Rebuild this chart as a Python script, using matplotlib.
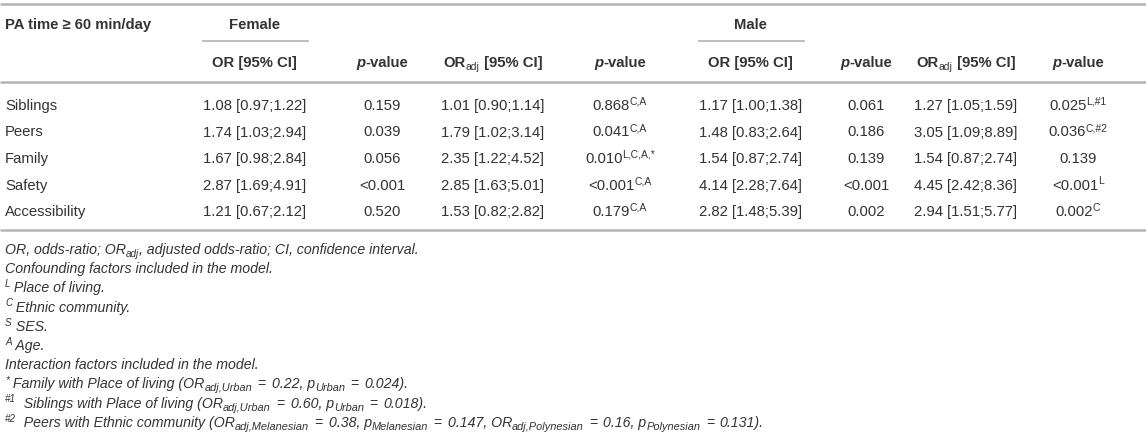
import matplotlib
matplotlib.use("Agg")
import matplotlib.pyplot as plt
from matplotlib.font_manager import FontProperties, findfont, get_font

try:
    from matplotlib.ft2font import LoadFlags, Kerning
    NOHINT = LoadFlags.NO_HINTING
    KDEF = Kerning.DEFAULT
except Exception:  # older versions
    NOHINT = 2
    KDEF = 0

# ---------------- data ----------------
row_labels = ["Siblings", "Peers", "Family", "Safety", "Accessibility"]
female_or = ["1.08 [0.97;1.22]", "1.74 [1.03;2.94]", "1.67 [0.98;2.84]", "2.87 [1.69;4.91]", "1.21 [0.67;2.12]"]
female_p = ["0.159", "0.039", "0.056", "<0.001", "0.520"]
female_oradj = ["1.01 [0.90;1.14]", "1.79 [1.02;3.14]", "2.35 [1.22;4.52]", "2.85 [1.63;5.01]", "1.53 [0.82;2.82]"]
female_padj = ["0.868", "0.041", "0.010", "<0.001", "0.179"]
female_padj_sup = ["C,A", "C,A", "L,C,A,*", "C,A", "C,A"]
male_or = ["1.17 [1.00;1.38]", "1.48 [0.83;2.64]", "1.54 [0.87;2.74]", "4.14 [2.28;7.64]", "2.82 [1.48;5.39]"]
male_p = ["0.061", "0.186", "0.139", "<0.001", "0.002"]
male_oradj = ["1.27 [1.05;1.59]", "3.05 [1.09;8.89]", "1.54 [0.87;2.74]", "4.45 [2.42;8.36]", "2.94 [1.51;5.77]"]
male_padj = ["0.025", "0.036", "0.139", "<0.001", "0.002"]
male_padj_sup = ["L,#1", "C,#2", "", "L", "C"]

corner_label = "PA time ≥ 60 min/day"
group_labels = ["Female", "Male"]

footnotes = [
    [("OR, odds-ratio; OR", "n"), ("adj", "sub"), (", adjusted odds-ratio; CI, confidence interval.", "n")],
    [("Confounding factors included in the model.", "n")],
    [("L", "sup"), (" Place of living.", "n")],
    [("C", "sup"), (" Ethnic community.", "n")],
    [("S", "sup"), (" SES.", "n")],
    [("A", "sup"), (" Age.", "n")],
    [("Interaction factors included in the model.", "n")],
    [("*", "sup"), (" Family with Place of living (OR", "n"), ("adj,Urban", "msub"), ("=", "eq"),
     ("0.22, p", "n"), ("Urban", "msub"), ("=", "eq"), ("0.024).", "n")],
    [("#1", "sup"), ("  Siblings with Place of living (OR", "n"), ("adj,Urban", "msub"), ("=", "eq"),
     ("0.60, p", "n"), ("Urban", "msub"), ("=", "eq"), ("0.018).", "n")],
    [("#2", "sup"), ("  Peers with Ethnic community (OR", "n"), ("adj,Melanesian", "msub"), ("=", "eq"),
     ("0.38, p", "n"), ("Melanesian", "msub"), ("=", "eq"), ("0.147, OR", "n"),
     ("adj,Polynesian", "msub"), ("=", "eq"), ("0.16, p", "n"), ("Polynesian", "msub"), ("=", "eq"),
     ("0.131).", "n")],
]

# ---------------- layout ----------------
W, H = 1146, 443
FS = 10.7
FS_FOOT = 10.2
TXT = "#333333"
LINE = "#b4b4b4"
FONT = "Liberation Sans"

fig = plt.figure(figsize=(W / 100, H / 100), dpi=100)
ax = fig.add_axes([0, 0, 1, 1])
ax.set_xlim(0, W)
ax.set_ylim(H, 0)
ax.axis("off")


def adv_width(s, size, weight, style):
    fp = FontProperties(family=FONT, weight=weight, style=style, size=size)
    font = get_font(findfont(fp))
    font.set_size(size, 100)
    w = 0.0
    prev = None
    for c in s:
        idx = font.get_char_index(ord(c))
        if prev is not None:
            try:
                w += font.get_kerning(prev, idx, KDEF) / 64.0
            except Exception:
                pass
        g = font.load_char(ord(c), flags=NOHINT)
        w += g.linearHoriAdvance / 65536.0
        prev = idx
    return w


def draw_runs(x, y, parts, ha="left", weight="normal", style="normal", fs=FS):
    px_per_pt = 100 / 72
    items = []
    for txt, kind in parts:
        size = fs
        dy = 0.0
        st = style
        pad = 0.0
        if kind == "sup":
            size = fs * 0.7
            dy = -fs * 0.5
        elif kind == "sub":
            size = fs * 0.7
            dy = fs * 0.3
        elif kind == "msub":
            size = fs * 0.78
            dy = fs * 0.3
        elif kind == "eq":
            st = "normal"
            pad = 0.4 * fs * px_per_pt
        w = weight if kind == "n" else "normal"
        items.append((txt, size, dy, w, st, pad, adv_width(txt, size, w, st)))
    total = sum(it[6] + 2 * it[5] for it in items)
    if ha == "center":
        cur = x - total / 2
    elif ha == "right":
        cur = x - total
    else:
        cur = x
    for txt, size, dy, w, st, pad, adv in items:
        cur += pad
        ax.text(cur, y + dy, txt, fontsize=size, family=FONT, weight=w, style=st,
                color=TXT, va="baseline", ha="left")
        cur += adv + pad
    return total


# column centres
col_x = [255, 382, 493, 620, 751, 866, 966, 1078]
label_x = 5

y_head1 = 29
y_head2 = 67
row_y = [110, 136.5, 163, 189.5, 216]
y_foot0 = 254
foot_dy = 19.2

# horizontal rules
ax.plot([0, W], [3.5, 3.5], color=LINE, lw=1.8, solid_capstyle="butt")
ax.plot([202, 309], [41, 41], color=LINE, lw=1.2, solid_capstyle="butt")
ax.plot([698, 805], [41, 41], color=LINE, lw=1.2, solid_capstyle="butt")
ax.plot([0, W], [82, 82], color=LINE, lw=1.8, solid_capstyle="butt")
ax.plot([0, W], [229.5, 229.5], color=LINE, lw=1.8, solid_capstyle="butt")

# headers
draw_runs(label_x, y_head1, [(corner_label, "n")], weight="bold")
draw_runs(col_x[0], y_head1, [(group_labels[0], "n")], ha="center", weight="bold")
draw_runs(col_x[4], y_head1, [(group_labels[1], "n")], ha="center", weight="bold")


def p_header(cx):
    w1 = adv_width("p", FS, "bold", "italic")
    w2 = adv_width("-value", FS, "bold", "normal")
    x0 = cx - (w1 + w2) / 2
    ax.text(x0, y_head2, "p", fontsize=FS, family=FONT, weight="bold", style="italic",
            color=TXT, va="baseline")
    ax.text(x0 + w1, y_head2, "-value", fontsize=FS, family=FONT, weight="bold",
            color=TXT, va="baseline")


for g in range(2):
    base = g * 4
    draw_runs(col_x[base], y_head2, [("OR [95% CI]", "n")], ha="center", weight="bold")
    p_header(col_x[base + 1])
    draw_runs(col_x[base + 2], y_head2, [("OR", "n"), ("adj", "sub"), (" [95% CI]", "n")],
              ha="center", weight="bold")
    p_header(col_x[base + 3])

# body
for i, lab in enumerate(row_labels):
    y = row_y[i]
    draw_runs(label_x, y, [(lab, "n")])
    draw_runs(col_x[0], y, [(female_or[i], "n")], ha="center")
    draw_runs(col_x[1], y, [(female_p[i], "n")], ha="center")
    draw_runs(col_x[2], y, [(female_oradj[i], "n")], ha="center")
    parts = [(female_padj[i], "n")] + ([(female_padj_sup[i], "sup")] if female_padj_sup[i] else [])
    draw_runs(col_x[3], y, parts, ha="center")
    draw_runs(col_x[4], y, [(male_or[i], "n")], ha="center")
    draw_runs(col_x[5], y, [(male_p[i], "n")], ha="center")
    draw_runs(col_x[6], y, [(male_oradj[i], "n")], ha="center")
    parts = [(male_padj[i], "n")] + ([(male_padj_sup[i], "sup")] if male_padj_sup[i] else [])
    draw_runs(col_x[7], y, parts, ha="center")

# footnotes
for k, parts in enumerate(footnotes):
    draw_runs(label_x, y_foot0 + k * foot_dy, parts, style="italic", fs=FS_FOOT)

fig.savefig("out.png", dpi=100)
